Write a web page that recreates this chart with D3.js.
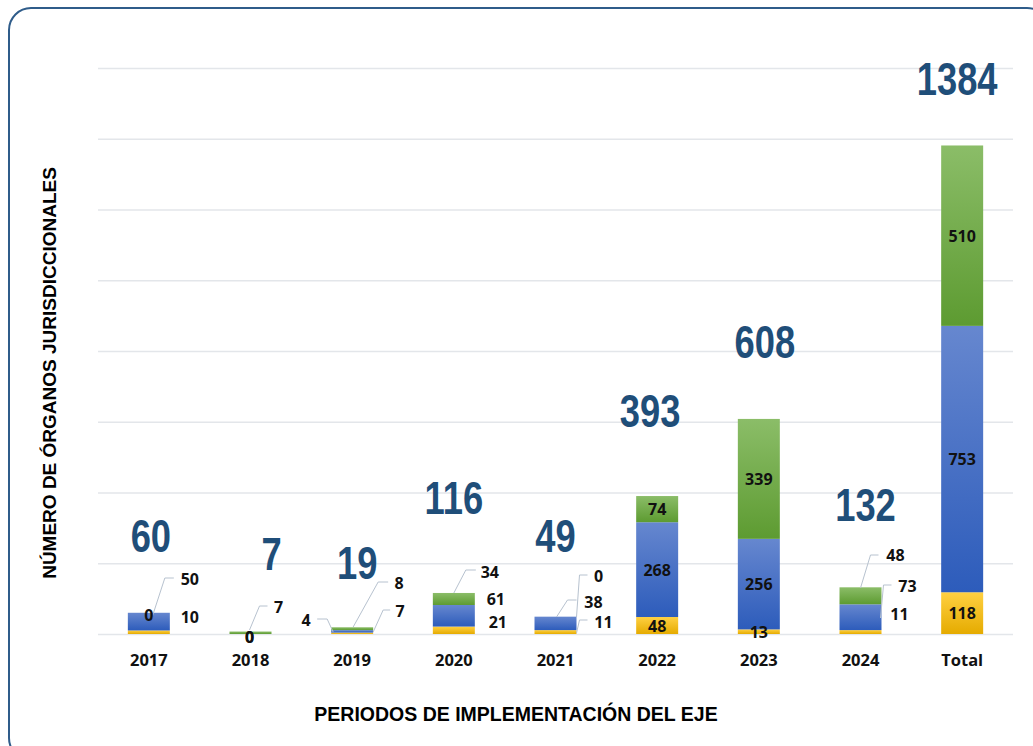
<!DOCTYPE html>
<html>
<head>
<meta charset="utf-8">
<script src="https://cdn.jsdelivr.net/npm/d3@7"></script>
<style>
  body { margin: 0; background: #fff; }
</style>
</head>
<body>
<div id="container"></div>
<script>
let w = 1033;
let h = 746;

// data
const categories = ["2017", "2018", "2019", "2020", "2021", "2022", "2023", "2024", "Total"];
const yellowVals = [10, 0, 4, 21, 11, 48, 13, 11, 118];
const blueVals = [50, 0, 7, 61, 38, 268, 256, 73, 753];
const greenVals = [0, 7, 8, 34, 0, 74, 339, 48, 510];
const totalLabels = [60, 7, 19, 116, 49, 393, 608, 132, 1384];
const yTicks = [0, 200, 400, 600, 800, 1000, 1200, 1400, 1600];

// layout of the hand placed labels (pixels, relative to bar centre and zero line)
const totalNudge = [[2, 1], [21, 0], [5, 14], [0, -17], [0, -3], [-7, -7], [6, 1], [5, -4], [-5, 12]];
const callouts = {
  "2017": { c: [0, -19], b: [41, -55, [[3, -16], [16, -56], [25, -56]]], a: [41, -17] },
  "2018": { a: [-1, 3], b: [-1, 3], c: [28, -27, [[-1, -4], [9, -28], [17, -28]]] },
  "2019": { a: [-46, -14, [[-35, -15], [-25, -15], [-19, -2]]], b: [48, -23, [[21, -2], [31, -24], [38, -24]]], c: [47, -51, [[1, -7], [26, -52], [36, -52]]] },
  "2020": { c: [36, -62, [[0, -41], [12, -64], [22, -64]]], b: [42, -35], a: [44, -12] },
  "2021": { c: [43, -58, [[21, -17], [24, -59], [32, -59]]], b: [38, -32, [[1, -17], [12, -34], [21, -34]]], a: [48, -12, [[21, -1], [24, -14], [32, -14]]] },
  "2024": { c: [35, -79, [[0, -46], [10, -79], [18, -79]]], b: [47, -48, [[20, -16], [23, -49], [31, -49]]], a: [39, -20] }
};

let series = [
  { key: "a", vals: yellowVals, top: "#ffd042", bot: "#e5ab00" },
  { key: "b", vals: blueVals, top: "#6687cf", bot: "#2d5cbb" },
  { key: "c", vals: greenVals, top: "#8bbd68", bot: "#5d9b31" }
];

let svg = d3.select("#container")
  .append("svg")
    .attr("width", w)
    .attr("height", h)
    .style("font-family", "'Open Sans', sans-serif");

let defs = svg.append("defs");
series.forEach(s => {
  let g = defs.append("linearGradient").attr("id", "grad-" + s.key)
    .attr("x1", 0).attr("y1", 0).attr("x2", 0).attr("y2", 1);
  g.append("stop").attr("offset", "0%").attr("stop-color", s.top);
  g.append("stop").attr("offset", "100%").attr("stop-color", s.bot);
});

// frame
svg.append("rect")
  .attr("x", 9).attr("y", 8)
  .attr("width", 1040).attr("height", 752)
  .attr("rx", 22)
  .attr("fill", "white")
  .attr("stroke", "#2f5c8a")
  .attr("stroke-width", 2);

let x = d3.scaleBand().domain(categories).range([98, 1013]).paddingInner(0.587).paddingOuter(0.2935);
let y = d3.scaleLinear().domain([0, 1600]).range([634, 68]);

// gridlines
svg.append("g")
  .attr("transform", "translate(98,0)")
  .call(d3.axisLeft(y).tickValues(yTicks).tickSize(-915).tickFormat(""))
  .call(g => g.select(".domain").remove())
  .call(g => g.selectAll(".tick line").attr("stroke", "#e3e6ea").attr("stroke-width", 1.5));

// stacked bars
let rows = categories.map((c, i) => ({ cat: c, a: yellowVals[i], b: blueVals[i], c: greenVals[i] }));
let stack = d3.stack().keys(["a", "b", "c"])(rows);

let layers = svg.append("g").selectAll("g")
  .data(stack)
  .enter()
  .append("g")
    .attr("fill", d => "url(#grad-" + d.key + ")");

layers.selectAll("rect")
  .data(d => d)
  .enter()
  .append("rect")
    .attr("x", d => x(d.data.cat))
    .attr("y", d => y(d[1]))
    .attr("width", x.bandwidth())
    .attr("height", d => y(d[0]) - y(d[1]));

// segment labels
let labG = svg.append("g");
stack.forEach(layer => {
  layer.forEach(d => {
    let cat = d.data.cat;
    let cx = x(cat) + x.bandwidth() / 2;
    let val = d.data[layer.key];
    let spec = callouts[cat] && callouts[cat][layer.key];
    let tx, ty;
    if (spec) {
      tx = cx + spec[0];
      ty = y(0) + spec[1];
      if (spec[2]) {
        labG.append("path")
          .attr("d", d3.line()(spec[2].map(p => [cx + p[0], y(0) + p[1]])))
          .attr("fill", "none")
          .attr("stroke", "#b7c2cf")
          .attr("stroke-width", 1);
      }
    } else {
      tx = cx;
      ty = (y(d[0]) + y(d[1])) / 2;
    }
    labG.append("text")
      .attr("x", tx)
      .attr("y", ty)
      .attr("text-anchor", "middle")
      .attr("dominant-baseline", "central")
      .style("font-size", "16px")
      .style("font-weight", "bold")
      .attr("fill", "#111")
      .text(val);
  });
});

// totals (condensed look)
svg.append("g").selectAll("text")
  .data(categories)
  .enter()
  .append("text")
    .attr("transform", (d, i) => "translate(" + (x(d) + x.bandwidth() / 2 + totalNudge[i][0]) + "," +
      (y(yellowVals[i] + blueVals[i] + greenVals[i]) - 62 + totalNudge[i][1]) + ") scale(0.79,1)")
    .attr("text-anchor", "middle")
    .style("font-family", "'Liberation Sans', Arial, sans-serif")
    .style("font-size", "46px")
    .style("font-weight", "bold")
    .attr("fill", "#1f4e79")
    .text((d, i) => totalLabels[i]);

// x axis labels
svg.append("g")
  .attr("transform", "translate(0,660)")
  .call(d3.axisBottom(x).tickSize(0).tickPadding(0))
  .call(g => g.select(".domain").remove())
  .call(g => g.selectAll("text")
    .attr("dy", "0.35em")
    .style("font-family", "'Open Sans', sans-serif")
    .style("font-size", "16.5px")
    .style("font-weight", "bold")
    .attr("fill", "#111"));

// axis titles
svg.append("text")
  .attr("x", 516).attr("y", 721)
  .attr("text-anchor", "middle")
  .style("font-family", "'Liberation Sans', Arial, sans-serif")
  .style("font-size", "19.5px")
  .style("font-weight", "bold")
  .attr("fill", "#000")
  .text("PERIODOS DE IMPLEMENTACIÓN DEL EJE");

svg.append("text")
  .attr("transform", "translate(56,373) rotate(-90)")
  .attr("text-anchor", "middle")
  .style("font-family", "'Liberation Sans', Arial, sans-serif")
  .style("font-size", "19px")
  .style("font-weight", "bold")
  .attr("fill", "#000")
  .text("NÚMERO DE ÓRGANOS JURISDICCIONALES");
</script>
</body>
</html>
